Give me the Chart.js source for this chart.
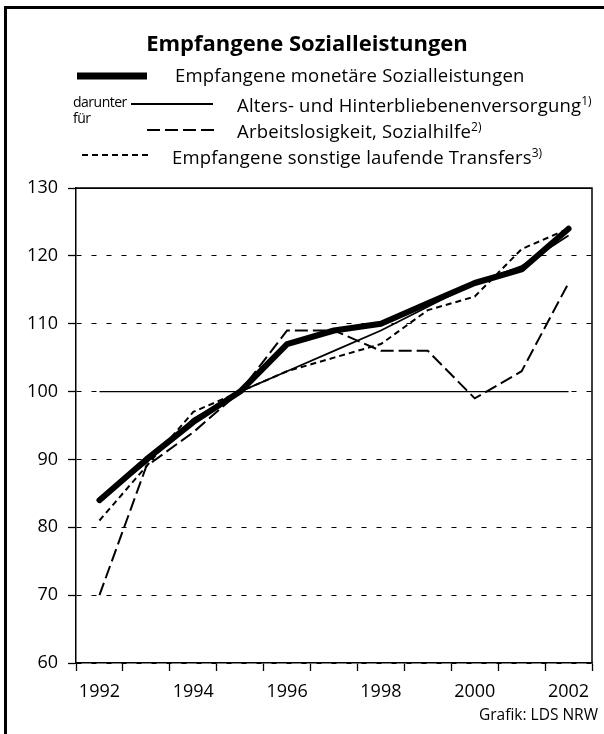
<!DOCTYPE html>
<html>
<head>
<meta charset="utf-8">
<script src="https://cdn.jsdelivr.net/npm/chart.js@4.4.0/dist/chart.umd.min.js"></script>
<style>
  body { margin: 0; background: #fff; }
  #page { position: relative; width: 604px; height: 734px; overflow: hidden; font-family: "Open Sans", sans-serif; color: #000; }
  #frame { position: absolute; left: 4px; top: 6px; width: 800px; height: 900px; border-left: 3px solid #000; border-top: 3px solid #000; }
  #chart { position: absolute; left: 0; top: 0; }
  .txt { position: absolute; white-space: nowrap; line-height: 1; }
  .leg { font-size: 18.5px; letter-spacing: 0.2px; }
  .leg sup { font-size: 12px; vertical-align: 7px; letter-spacing: 0; }
  .small { font-size: 14px; letter-spacing: -0.5px; }
  svg { position: absolute; }
</style>
</head>
<body>
<div id="page">
  <div id="frame"></div>
  <canvas id="chart" width="604" height="734"></canvas>

  <div class="txt" style="left:0;width:614px;text-align:center;top:31px;font-size:22px;font-weight:bold;">Empfangene Sozialleistungen</div>

  <svg style="left:76px;top:70px" width="74" height="12"><line x1="1" y1="6" x2="71" y2="6" stroke="#000" stroke-width="7"/></svg>
  <div class="txt leg" style="left:175px;top:66px;">Empfangene monetäre Sozialleistungen</div>

  <div class="txt small" style="left:73px;top:95px;">darunter</div>
  <svg style="left:129px;top:100px" width="88" height="8"><line x1="2" y1="4" x2="84" y2="4" stroke="#000" stroke-width="2"/></svg>
  <div class="txt leg" style="left:237px;top:95px;">Alters- und Hinterbliebenenversorgung<sup>1)</sup></div>

  <div class="txt small" style="left:73px;top:111px;">für</div>
  <svg style="left:145px;top:126px" width="72" height="8"><line x1="2" y1="4" x2="70" y2="4" stroke="#000" stroke-width="2" stroke-dasharray="13 5"/></svg>
  <div class="txt leg" style="left:237px;top:121px;">Arbeitslosigkeit, Sozialhilfe<sup>2)</sup></div>

  <svg style="left:80px;top:151px" width="72" height="8"><line x1="2" y1="4" x2="69" y2="4" stroke="#000" stroke-width="2" stroke-dasharray="6 4"/></svg>
  <div class="txt leg" style="left:172px;top:147px;">Empfangene sonstige laufende Transfers<sup>3)</sup></div>

  <div class="txt" style="right:6px;top:707px;font-size:15.5px;">Grafik: LDS NRW</div>
</div>

<script>
const years = ["1992", "1993", "1994", "1995", "1996", "1997", "1998", "1999", "2000", "2001", "2002"];

// Index 1995 = 100
const monetaer = [84, 90, 95.5, 100, 107, 109, 110, 113, 116, 118, 124];
const alters = [84, 89.5, 96, 100, 103, 106, 109, 112.5, 116, 118.5, 123];
const arbeitslos = [70, 89, 94, 100, 109, 109, 106, 106, 99, 103, 116];
const sonstige = [81, 89, 97, 100, 103, 105, 107, 112, 114, 121, 124];
const basis = [100, 100, 100, 100, 100, 100, 100, 100, 100, 100, 100];

const yMin = 60;
const yMax = 130;
const yStep = 10;

// top and right edge of the plot
const frameBox = {
  id: "frameBox",
  afterDraw(chart) {
    const { ctx, chartArea } = chart;
    ctx.save();
    ctx.strokeStyle = "#000";
    ctx.lineWidth = 1.5;
    ctx.beginPath();
    ctx.moveTo(chartArea.left, chartArea.top);
    ctx.lineTo(chartArea.right, chartArea.top);
    ctx.lineTo(chartArea.right, chartArea.bottom);
    ctx.stroke();
    ctx.restore();
  },
};

const ctx = document.getElementById("chart").getContext("2d");

new Chart(ctx, {
  type: "line",
  data: {
    labels: years,
    datasets: [
      {
        label: "Empfangene monetäre Sozialleistungen",
        data: monetaer,
        borderColor: "#000",
        borderWidth: 6,
        borderCapStyle: "round",
        borderJoinStyle: "round",
      },
      {
        label: "Alters- und Hinterbliebenenversorgung",
        data: alters,
        borderColor: "#000",
        borderWidth: 1.8,
      },
      {
        label: "Arbeitslosigkeit, Sozialhilfe",
        data: arbeitslos,
        borderColor: "#000",
        borderWidth: 2,
        borderDash: [13, 5],
      },
      {
        label: "Empfangene sonstige laufende Transfers",
        data: sonstige,
        borderColor: "#000",
        borderWidth: 2,
        borderDash: [6, 4],
      },
      {
        label: "1995 = 100",
        data: basis,
        borderColor: "#000",
        borderWidth: 1.3,
      },
    ],
  },
  options: {
    responsive: false,
    animation: false,
    devicePixelRatio: 1,
    elements: { point: { radius: 0 }, line: { tension: 0 } },
    layout: { padding: { left: 0, right: 12, top: 188, bottom: 31 } },
    plugins: {
      legend: { display: false },
      tooltip: { enabled: false },
      title: { display: false },
    },
    scales: {
      x: {
        offset: true,
        grid: {
          offset: true,
          drawOnChartArea: false,
          drawTicks: true,
          tickLength: 8,
          tickWidth: 1.3,
          tickColor: "#000",
        },
        border: { display: true, color: "#000", width: 1.5 },
        ticks: {
          autoSkip: false,
          maxRotation: 0,
          padding: 10,
          color: "#000",
          font: { family: "Open Sans", size: 18 },
          callback: function (value, index) {
            return index % 2 === 0 ? this.getLabelForValue(value) : "";
          },
        },
        afterFit: (scale) => {
          scale.height = 40;
        },
      },
      y: {
        min: yMin,
        max: yMax,
        grid: {
          color: "#000",
          lineWidth: 1,
          tickLength: 8,
          tickColor: "#000",
          tickWidth: 1.3,
        },
        border: {
          display: true,
          color: "#000",
          width: 1.5,
          dash: (c) => (c.tick && c.tick.value === yMax ? [] : [5, 10]),
        },
        ticks: {
          stepSize: yStep,
          padding: 10,
          color: "#000",
          font: { family: "Open Sans", size: 18 },
        },
        afterFit: (scale) => {
          scale.width = 76;
        },
      },
    },
  },
  plugins: [frameBox],
});
</script>
</body>
</html>
